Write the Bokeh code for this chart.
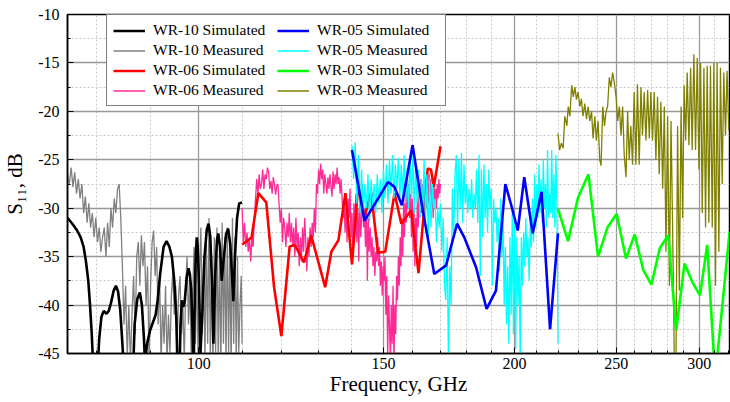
from bokeh.plotting import figure
from bokeh.models import FixedTicker, Legend, LegendItem, PrintfTickFormatter
from bokeh.embed import file_html
from bokeh.resources import INLINE

# ---------------- data ----------------
wr10_sim_f = [75.0, 75.8, 76.6, 77.2, 77.7, 78.1, 78.5, 78.8, 79.1, 79.4,
              80.1, 80.4, 80.8, 81.2, 81.7, 82.1, 82.5, 83.0, 83.4, 83.8,
              84.2, 84.6, 84.9, 86.6, 86.9, 87.4, 87.9, 88.3, 88.7, 88.9,
              89.3, 89.9, 90.6, 91.0, 91.4, 91.9, 92.6, 93.2, 93.8, 94.3,
              94.8, 95.2, 95.5, 95.9, 96.1, 96.4, 96.7, 97.0, 97.4, 97.8,
              98.1, 98.4, 98.7, 98.9, 99.2, 99.4, 99.6, 99.8, 100.1, 100.4,
              100.8, 101.3, 101.8, 102.2, 102.6, 103.0, 103.3, 103.7, 104.1, 104.4,
              104.8, 105.2, 105.6, 106.2, 106.7, 107.2, 107.6, 107.9, 108.3, 108.8,
              109.3, 110.0]
wr10_sim_db = [-31.0, -31.6, -32.3, -33.0, -34.0, -35.5, -37.5, -40.0, -43.0, -47.0,
               -47.0, -43.5, -41.2, -40.6, -40.9, -40.6, -39.8, -38.5, -38.0, -38.6,
               -40.5, -44.0, -47.0, -47.0, -42.0, -39.4, -38.7, -40.0, -43.5, -46.0,
               -44.0, -42.6, -41.6, -41.0, -39.5, -36.8, -34.0, -33.4, -34.0, -35.0,
               -37.5, -41.0, -47.0, -47.0, -42.0, -39.5, -40.2, -39.6, -37.2, -36.2,
               -36.8, -38.5, -43.0, -47.0, -38.0, -34.5, -33.0, -34.0, -38.0, -45.0,
               -41.0, -35.0, -32.2, -31.6, -33.0, -38.0, -44.0, -37.0, -33.3, -32.6,
               -34.0, -37.5, -35.5, -32.7, -32.1, -33.8, -37.0, -39.6, -35.0, -31.0,
               -29.5, -29.4]

wr10_meas_f = [75.0, 75.3, 75.6, 75.9, 76.2, 76.5, 76.8, 77.1, 77.4, 77.7,
               78.0, 78.3, 78.6, 78.9, 79.2, 79.5, 79.8, 80.1, 80.4, 80.7,
               81.0, 81.3, 81.6, 81.9, 82.2, 82.5, 82.8, 83.1, 83.4, 83.7,
               84.0, 84.3, 84.6, 84.9, 85.2, 85.5, 85.8, 86.1, 86.4, 86.7,
               87.0, 87.3, 87.6, 87.9, 88.2, 88.5, 88.8, 89.1, 89.4, 89.7,
               90.0, 90.3, 90.6, 90.9, 91.2, 91.5, 91.8, 92.1, 92.4, 92.7,
               93.0, 93.3, 93.6, 93.9, 94.2, 94.5, 94.8, 95.1, 95.4, 95.7,
               96.0, 96.3, 96.6, 96.9, 97.2, 97.5, 97.8, 98.1, 98.4, 98.7,
               99.0, 99.3, 99.6, 99.9, 100.2, 100.5, 100.8, 101.1, 101.4, 101.7,
               102.0, 102.3, 102.6, 102.9, 103.2, 103.5, 103.8, 104.1, 104.4, 104.7,
               105.0, 105.3, 105.6, 105.9, 106.2, 106.5, 106.8, 107.1, 107.4, 107.7,
               108.0, 108.3, 108.6, 108.9, 109.2, 109.5, 109.8, 110.0]
wr10_meas_db = [-26.5, -27.5, -25.8, -27.8, -26.3, -28.5, -27.0, -29.0, -27.5, -30.5,
                -28.8, -31.5, -29.5, -32.0, -30.5, -33.0, -31.0, -33.5, -32.0, -34.5,
                -33.0, -32.0, -35.0, -31.5, -34.0, -30.0, -32.0, -29.0, -30.5, -28.0,
                -27.5, -31.0, -36.0, -42.0, -38.0, -45.5, -40.0, -46.0, -41.0, -37.0,
                -43.0, -35.0, -33.5, -38.0, -32.8, -36.0, -33.5, -40.0, -36.0, -46.0,
                -38.0, -33.5, -32.3, -37.0, -34.0, -42.0, -37.0, -46.0, -40.0, -44.0,
                -38.0, -46.0, -41.0, -45.0, -39.0, -36.5, -41.0, -38.0, -44.0, -39.0,
                -37.0, -43.0, -40.0, -46.0, -38.0, -35.0, -42.0, -37.0, -46.0, -39.0,
                -34.0, -44.0, -36.0, -46.0, -37.0, -32.0, -43.0, -35.0, -46.0, -33.0,
                -44.0, -31.0, -46.0, -35.0, -47.0, -33.0, -45.0, -32.0, -46.0, -34.0,
                -47.0, -31.5, -44.0, -33.0, -46.0, -32.0, -45.0, -34.0, -47.0, -31.0,
                -44.0, -33.0, -46.0, -35.0, -45.0, -40.0, -37.0, -44.0]

wr06_sim_f = [110.0, 112.3, 114.0, 116.0, 118.0, 119.9, 122.1, 123.5, 126.0, 128.0,
              132.0, 133.8, 135.9, 138.0, 140.0, 141.9, 143.9, 146.0, 148.2, 150.6,
              153.7, 156.0, 159.4, 162.0, 165.3, 166.5, 167.5, 168.7, 170.0]
wr06_sim_db = [-33.75, -33.05, -28.45, -29.4, -38.15, -43.2, -33.95, -33.8, -35.6, -32.8,
               -38.15, -34.5, -33.3, -28.45, -35.8, -27.65, -30.9, -28.35, -34.6, -34.5,
               -28.45, -31.6, -30.2, -36.7, -25.9, -26.0, -27.8, -25.8, -23.6]

wr06_meas_f = [110.0, 110.3, 110.6, 110.9, 111.2, 111.5, 111.8, 112.1, 112.4, 112.7,
               113.0, 113.3, 113.6, 113.9, 114.2, 114.5, 114.8, 115.1, 115.4, 115.7,
               116.0, 116.3, 116.6, 116.9, 117.2, 117.5, 117.8, 118.1, 118.4, 118.7,
               119.0, 119.3, 119.6, 119.9, 120.2, 120.5, 120.8, 121.1, 121.4, 121.7,
               122.0, 122.3, 122.6, 122.9, 123.2, 123.5, 123.8, 124.1, 124.4, 124.7,
               125.0, 125.3, 125.6, 125.9, 126.2, 126.5, 126.8, 127.1, 127.4, 127.7,
               128.0, 128.3, 128.6, 128.9, 129.2, 129.5, 129.8, 130.1, 130.4, 130.7,
               131.0, 131.3, 131.6, 131.9, 132.2, 132.5, 132.8, 133.1, 133.4, 133.7,
               134.0, 134.3, 134.6, 134.9, 135.2, 135.5, 135.8, 136.1, 136.4, 136.7,
               137.0, 137.3, 137.6, 137.9, 138.2, 138.5, 138.8, 139.1, 139.4, 139.7,
               140.0, 140.3, 140.6, 140.9, 141.2, 141.5, 141.8, 142.1, 142.4, 142.7,
               143.0, 143.3, 143.6, 143.9, 144.2, 144.5, 144.8, 145.1, 145.4, 145.7,
               146.0, 146.3, 146.6, 146.9, 147.2, 147.5, 147.8, 148.1, 148.4, 148.7,
               149.0, 149.3, 149.6, 149.9, 150.2, 150.5, 150.8, 151.1, 151.4, 151.7,
               152.0, 152.3, 152.6, 152.9, 153.2, 153.5, 153.8, 154.1, 154.4, 154.7,
               155.0, 155.3, 155.6, 155.9, 156.2, 156.5, 156.8, 157.1, 157.4, 157.7,
               158.0, 158.3, 158.6, 158.9, 159.2, 159.5, 159.8, 160.1, 160.4, 160.7,
               161.0, 161.3, 161.6, 161.9, 162.2, 162.5, 162.8, 163.1, 163.4, 163.7,
               164.0, 164.3, 164.6, 164.9, 165.2, 165.5, 165.8, 166.1, 166.4, 166.7,
               167.0, 167.3, 167.6, 167.9, 168.2, 168.5, 168.8, 169.1, 169.4, 169.7,
               170.0]
wr06_meas_db = [-30.0, -33.5, -31.5, -34.0, -32.5, -34.5, -33.0, -35.5, -33.0, -34.0,
                -31.0, -29.0, -27.0, -28.5, -26.5, -28.0, -27.5, -26.0, -28.0, -26.5,
                -27.0, -25.8, -26.3, -28.0, -27.2, -28.5, -26.8, -27.5, -28.6, -27.7,
                -27.5, -29.5, -31.5, -30.0, -33.5, -31.0, -32.0, -34.0, -31.5, -33.0,
                -30.5, -33.5, -31.5, -34.0, -32.0, -35.0, -31.0, -34.0, -32.5, -36.0,
                -33.0, -35.5, -32.0, -34.5, -31.0, -33.5, -36.5, -33.0, -35.0, -32.0,
                -34.0, -31.5, -33.0, -30.0, -32.5, -27.5, -28.5, -26.0, -27.5, -25.4,
                -27.0, -26.0, -28.5, -26.5, -27.5, -28.5, -26.8, -28.0, -26.5, -27.8,
                -28.8, -26.2, -28.0, -26.5, -27.5, -25.8, -27.5, -26.8, -28.5, -27.0,
                -29.0, -31.0, -29.5, -32.5, -30.0, -33.5, -29.0, -31.0, -28.0, -33.0,
                -30.5, -35.0, -29.5, -32.0, -28.5, -33.5, -30.0, -35.5, -29.0, -33.0,
                -31.0, -27.5, -32.0, -30.0, -34.0, -29.5, -37.5, -31.0, -34.5, -32.0,
                -35.0, -33.0, -36.0, -34.0, -37.0, -34.5, -35.5, -33.0, -36.0, -34.0,
                -38.0, -35.5, -39.0, -36.0, -37.5, -35.0, -41.0, -37.0, -45.5, -39.0,
                -42.0, -46.0, -40.0, -44.0, -38.0, -46.0, -40.0, -43.0, -37.0, -39.5,
                -35.0, -38.0, -33.0, -36.0, -31.0, -35.0, -29.5, -33.0, -28.5, -31.5,
                -28.0, -30.0, -27.5, -31.0, -28.5, -33.0, -29.0, -34.5, -30.0, -36.0,
                -31.0, -34.0, -29.0, -32.0, -28.0, -31.0, -27.0, -30.5, -27.5, -29.0,
                -26.5, -29.5, -27.0, -30.0, -27.5, -29.5, -26.5, -28.5, -27.0, -30.0,
                -28.0, -31.0, -27.5, -29.5, -28.0, -30.0, -27.5, -29.0, -27.0, -28.5,
                -27.5]

wr05_sim_f = [140.0, 143.9, 151.5, 153.7, 156.2, 159.9, 163.5, 167.7, 172.1, 176.3, 179.1,
              183.8, 188.1, 192.0, 196.0, 198.8, 201.4, 204.3, 208.1, 212.2, 216.2, 220.0]
wr05_sim_db = [-24.0, -31.3, -27.3, -27.8, -29.7, -23.5, -30.2, -36.8, -35.9, -31.6, -33.0,
               -36.1, -40.4, -38.5, -27.5, -29.9, -32.3, -26.8, -32.6, -28.3, -42.5, -32.6]

wr05_meas_f = [140.0, 140.5, 141.0, 141.5, 142.0, 142.5, 143.0, 143.5, 144.0, 144.5,
               145.0, 145.5, 146.0, 146.5, 147.0, 147.5, 148.0, 148.5, 149.0, 149.5,
               150.0, 150.5, 151.0, 151.5, 152.0, 152.5, 153.0, 153.5, 154.0, 154.5,
               155.0, 155.5, 156.0, 156.5, 157.0, 157.5, 158.0, 158.5, 159.0, 159.5,
               160.0, 160.5, 161.0, 161.5, 162.0, 162.5, 163.0, 163.5, 164.0, 164.5,
               165.0, 165.5, 166.0, 166.5, 167.0, 167.5, 168.0, 168.5, 169.0, 169.5,
               170.0, 170.5, 171.0, 171.5, 172.0, 172.5, 173.0, 173.5, 174.0, 174.5,
               175.0, 175.5, 176.0, 176.5, 177.0, 177.5, 178.0, 178.5, 179.0, 179.5,
               180.0, 180.5, 181.0, 181.5, 182.0, 182.5, 183.0, 183.5, 184.0, 184.5,
               185.0, 185.5, 186.0, 186.5, 187.0, 187.5, 188.0, 188.5, 189.0, 189.5,
               190.0, 190.5, 191.0, 191.5, 192.0, 192.5, 193.0, 193.5, 194.0, 194.5,
               195.0, 195.5, 196.0, 196.5, 197.0, 197.5, 198.0, 198.5, 199.0, 199.5,
               200.0, 200.5, 201.0, 201.5, 202.0, 202.5, 203.0, 203.5, 204.0, 204.5,
               205.0, 205.5, 206.0, 206.5, 207.0, 207.5, 208.0, 208.5, 209.0, 209.5,
               210.0, 210.5, 211.0, 211.5, 212.0, 212.5, 213.0, 213.5, 214.0, 214.5,
               215.0, 215.5, 216.0, 216.5, 217.0, 217.5, 218.0, 218.5, 219.0, 219.5,
               220.0]
wr05_meas_db = [-23.5, -27.0, -23.2, -29.5, -24.5, -30.5, -26.0, -31.0, -27.5, -30.0,
                -26.5, -31.5, -27.0, -30.0, -27.5, -30.5, -26.5, -29.5, -27.0, -30.5,
                -26.0, -29.0, -25.5, -29.5, -25.0, -28.5, -24.5, -29.0, -25.5, -28.0,
                -24.8, -29.0, -25.5, -28.5, -24.5, -29.5, -26.0, -30.0, -25.0, -29.0,
                -24.5, -30.5, -25.5, -29.5, -26.0, -31.0, -27.0, -30.0, -25.0, -31.5,
                -26.5, -33.0, -27.0, -32.0, -27.5, -30.0, -29.0, -33.5, -30.0, -32.0,
                -29.5, -34.5, -31.0, -38.0, -39.5, -33.0, -46.0, -36.0, -40.0, -28.0,
                -33.0, -26.5, -24.5, -32.0, -25.0, -30.0, -24.3, -31.5, -25.5, -29.5,
                -27.5, -30.5, -28.0, -30.0, -27.0, -31.0, -28.5, -30.0, -26.0, -31.5,
                -24.5, -37.0, -26.0, -33.0, -25.5, -31.0, -27.5, -32.5, -26.0, -30.0,
                -28.0, -38.0, -29.0, -31.5, -30.0, -33.5, -31.0, -36.5, -29.0, -35.0,
                -31.0, -40.0, -34.0, -42.0, -36.0, -44.0, -33.0, -41.0, -30.0, -43.0,
                -31.0, -44.5, -33.0, -40.0, -35.0, -46.0, -33.0, -38.0, -32.5, -36.0,
                -31.0, -35.0, -33.0, -37.5, -31.5, -34.0, -29.0, -33.5, -26.5, -32.0,
                -27.5, -31.0, -25.5, -30.5, -27.0, -31.5, -25.0, -30.0, -27.5, -32.0,
                -24.0, -31.0, -28.5, -30.5, -24.0, -31.0, -26.5, -32.0, -24.5, -30.0,
                -44.0]

wr03_sim_f = [220.0, 224.9, 229.9, 235.2, 240.2, 245.2, 250.2, 255.4, 260.3, 265.3,
              270.0, 275.1, 280.2, 285.1, 290.4, 295.3, 300.4, 305.2, 310.6, 320.6]
wr03_sim_db = [-30.1, -33.4, -28.9, -26.5, -35.0, -32.0, -30.6, -35.2, -32.7, -36.4,
               -37.9, -34.1, -32.8, -42.6, -35.7, -37.6, -39.0, -33.8, -47.5, -32.4]

wr03_meas_f = [220.0, 220.8, 221.6, 222.5, 223.3, 224.3, 225.0, 225.8, 226.7, 227.5,
               228.3, 229.1, 229.9, 230.8, 231.6, 232.4, 233.3, 234.2, 235.0, 235.9,
               236.8, 237.6, 238.5, 239.3, 240.2, 241.1, 241.8, 242.7, 243.6, 244.5,
               245.3, 246.2, 247.1, 248.0, 248.9, 249.9, 250.8, 251.7, 252.6, 253.5,
               254.4, 255.4, 256.3, 257.2, 258.1, 259.1, 260.0, 261.0, 261.9, 262.9,
               263.9, 264.8, 265.8, 266.8, 267.8, 268.8, 269.7, 270.7, 271.7, 272.7,
               273.7, 274.7, 275.7, 276.8, 277.8, 278.8, 279.8, 280.9, 281.9, 282.9,
               284.0, 285.0, 286.0, 287.1, 288.2, 289.2, 290.1, 291.1, 292.1, 293.2,
               294.3, 295.3, 296.4, 297.5, 298.6, 299.7, 300.8, 301.9, 303.0, 304.1,
               305.2, 306.3, 307.4, 308.6, 309.7, 310.8, 311.9, 313.1, 314.2, 315.4,
               316.5, 317.7, 318.8, 320.0]
wr03_meas_db = [-22.3, -24.0, -23.3, -23.8, -20.5, -21.5, -19.5, -20.5, -17.3, -18.5,
                -17.5, -18.8, -18.0, -19.5, -18.7, -20.5, -19.2, -20.8, -19.5, -21.0,
                -20.0, -22.8, -20.5, -23.0, -21.0, -25.0, -25.6, -19.5, -21.5, -20.0,
                -19.5, -16.5, -17.5, -16.0, -17.0, -18.5, -21.0, -19.5, -22.5, -19.5,
                -24.5, -26.8, -20.0, -25.0, -21.5, -25.5, -18.0, -25.5, -17.2, -25.5,
                -17.5, -22.5, -18.0, -23.0, -17.8, -22.8, -18.0, -23.0, -18.0, -25.0,
                -18.5, -26.5, -19.0, -28.0, -19.5, -34.5, -20.5, -38.0, -21.0, -32.0,
                -46.0, -46.0, -21.5, -38.5, -19.5, -31.0, -17.3, -23.0, -16.0, -23.5,
                -15.5, -24.0, -14.1, -24.0, -14.5, -26.0, -15.0, -30.5, -15.5, -32.0,
                -15.3, -31.5, -15.3, -32.0, -15.0, -38.0, -15.0, -34.5, -15.5, -27.5,
                -16.0, -22.5, -15.8, -22.0]

x_major = [100, 150, 200, 250, 300]
x_minor = [80, 90, 110, 120, 130, 140, 160, 170, 180, 190, 210, 220, 230, 240,
           260, 270, 280, 290, 310, 320]
y_major = [-45, -40, -35, -30, -25, -20, -15, -10]
y_minor = [-42.5, -37.5, -32.5, -27.5, -22.5, -17.5, -12.5]

FONT = "Liberation Serif"

p = figure(width=730, height=402, x_axis_type="log", x_range=(75, 320.5), y_range=(-45, -10),
           output_backend="svg", toolbar_location=None,
           min_border_left=65, min_border_right=1, min_border_top=14, min_border_bottom=49,
           background_fill_color="white", border_fill_color="white")

p.outline_line_color = "black"
p.outline_line_width = 1.5
p.outline_line_alpha = 1.0

p.xaxis.ticker = FixedTicker(ticks=x_major, minor_ticks=x_minor)
p.yaxis.ticker = FixedTicker(ticks=y_major, minor_ticks=y_minor)
p.xaxis.formatter = PrintfTickFormatter(format="%d")
p.yaxis.formatter = PrintfTickFormatter(format="%d")

for ax in (p.xaxis[0], p.yaxis[0]):
    ax.major_label_text_font = FONT
    ax.major_label_text_font_size = "16px"
    ax.major_label_text_color = "black"
    ax.axis_label_text_font = FONT
    ax.axis_label_text_font_size = "21px"
    ax.axis_label_text_font_style = "normal"
    ax.axis_label_text_color = "black"
    ax.axis_line_color = "black"
    ax.axis_line_width = 1.5
    ax.major_tick_in = 6
    ax.major_tick_out = 0
    ax.minor_tick_in = 3
    ax.minor_tick_out = 0
    ax.major_tick_line_color = "black"
    ax.minor_tick_line_color = "black"

p.xaxis.axis_label = "Frequency, GHz"
p.yaxis.axis_label = "S\u2081\u2081, dB"
p.xaxis.major_label_standoff = 4
p.xaxis.axis_label_standoff = 0
p.yaxis.major_label_standoff = 8
p.yaxis.axis_label_standoff = 8

for g in (p.xgrid[0], p.ygrid[0]):
    g.grid_line_color = "#999999"
    g.grid_line_width = 1.3
    g.minor_grid_line_color = "#c8c8c8"
    g.minor_grid_line_dash = "2 2"
    g.minor_grid_line_width = 1

r10m = p.line(wr10_meas_f, wr10_meas_db, line_color="#808080", line_width=1.3)
r10s = p.line(wr10_sim_f, wr10_sim_db, line_color="black", line_width=2.6)
r06m = p.line(wr06_meas_f, wr06_meas_db, line_color="#ff2a95", line_width=1.3)
r06s = p.line(wr06_sim_f, wr06_sim_db, line_color="#ff0000", line_width=2.6)
r05m = p.line(wr05_meas_f, wr05_meas_db, line_color="#00ffff", line_width=1.3)
r05s = p.line(wr05_sim_f, wr05_sim_db, line_color="#0000ff", line_width=2.6)
r03m = p.line(wr03_meas_f, wr03_meas_db, line_color="#808000", line_width=1.3)
r03s = p.line(wr03_sim_f, wr03_sim_db, line_color="#00ff00", line_width=2.6)

legend = Legend(items=[
    LegendItem(label="WR-10 Simulated", renderers=[r10s]),
    LegendItem(label="WR-10 Measured", renderers=[r10m]),
    LegendItem(label="WR-06 Simulated", renderers=[r06s]),
    LegendItem(label="WR-06 Measured", renderers=[r06m]),
    LegendItem(label="WR-05 Simulated", renderers=[r05s]),
    LegendItem(label="WR-05 Measured", renderers=[r05m]),
    LegendItem(label="WR-03 Simulated", renderers=[r03s]),
    LegendItem(label="WR-03 Measured", renderers=[r03m]),
], nrows=4, location=(39, 247))
legend.label_text_font = FONT
legend.label_text_font_size = "15.5px"
legend.label_text_color = "black"
legend.border_line_color = "black"
legend.border_line_width = 1
legend.background_fill_color = "white"
legend.background_fill_alpha = 1.0
legend.glyph_width = 32
legend.glyph_height = 17
legend.label_height = 17
legend.label_width = 122
legend.label_standoff = 8
legend.spacing = 2
legend.padding = 6
legend.margin = 0
p.add_layout(legend, "center")

open("out.html", "w").write(file_html(p, INLINE))
